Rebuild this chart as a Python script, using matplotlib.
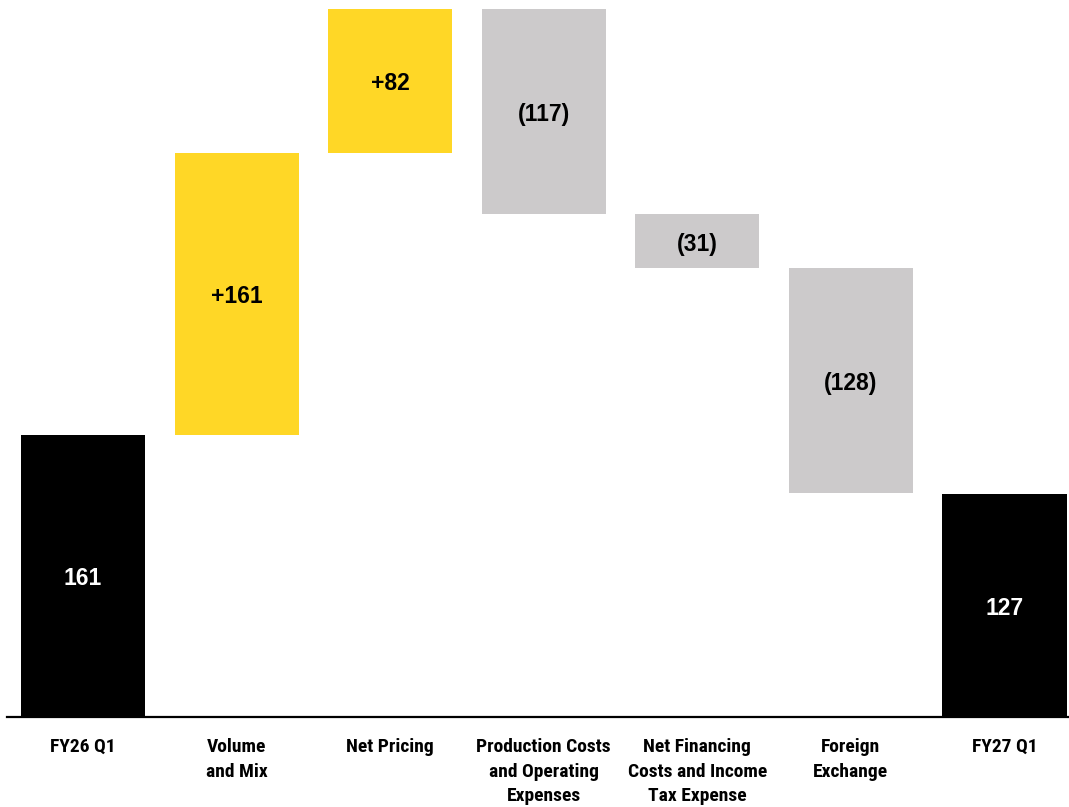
import matplotlib
matplotlib.use("Agg")
import matplotlib.pyplot as plt

categories = ["FY26 Q1", "Volume\nand Mix", "Net Pricing", "Production Costs\nand Operating\nExpenses",
              "Net Financing\nCosts and Income\nTax Expense", "Foreign\nExchange", "FY27 Q1"]
changes = [161, 161, 82, -117, -31, -128, 127]
kinds = ["total", "delta", "delta", "delta", "delta", "delta", "total"]
labels = ["161", "+161", "+82", "(117)", "(31)", "(128)", "127"]

fig = plt.figure(figsize=(10.69, 8.07), dpi=100)
ax = fig.add_axes([7/1069, 90/807, 1 - 7/1069, 717/807])

YEL = "#FFD726"
GRY = "#CCCACB"
run = 0
for i, (c, k, lab) in enumerate(zip(changes, kinds, labels)):
    if k == "total":
        bottom, h, col = 0, c, "#000000"
        run = c
    else:
        if c >= 0:
            bottom, h, col = run, c, YEL
        else:
            bottom, h, col = run + c, -c, GRY
        run += c
    ax.bar(i, h, bottom=bottom, width=0.808, color=col, linewidth=0)
    ax.annotate(lab, (i, bottom + h / 2), xytext=(0, -2.2), textcoords="offset points",
                ha="center", va="center", fontsize=16.5, fontweight="bold",
                family="Liberation Sans", color="white" if k == "total" else "black")

ax.set_xlim(-0.495, 6.42)
ax.set_ylim(0, 409)
for s in ["top", "right", "left"]:
    ax.spines[s].set_visible(False)
ax.spines["bottom"].set_linewidth(1.6)
ax.set_yticks([])
ax.set_xticks(range(len(categories)))
ax.set_xticklabels(categories, fontsize=14, fontweight="bold",
                   family=["Roboto Condensed", "Barlow Semi Condensed", "Liberation Sans"],
                   linespacing=1.48, va="top")
ax.tick_params(axis="x", length=0, pad=15)
fig.savefig("out.png", dpi=100)
